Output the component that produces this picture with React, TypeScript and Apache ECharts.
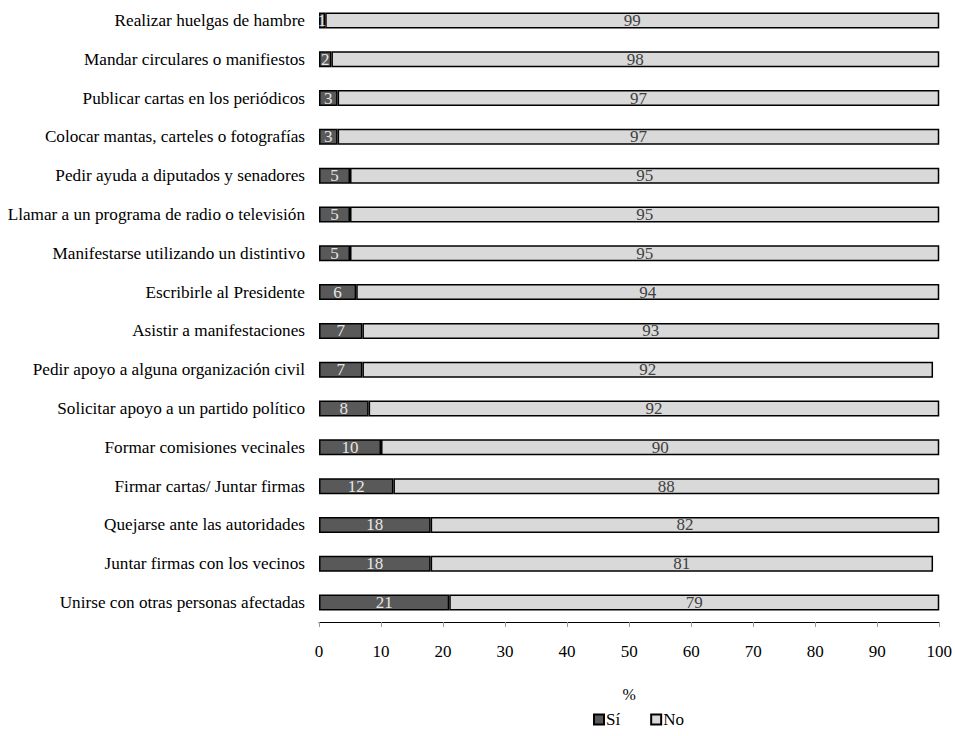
import React, { useEffect, useRef } from "react";
import * as echarts from "echarts";

const categories = [
  "Realizar huelgas de hambre",
  "Mandar circulares o manifiestos",
  "Publicar cartas en los periódicos",
  "Colocar mantas, carteles o fotografías",
  "Pedir ayuda a diputados y senadores",
  "Llamar a un programa de radio o televisión",
  "Manifestarse utilizando un distintivo",
  "Escribirle al Presidente",
  "Asistir a manifestaciones",
  "Pedir apoyo a alguna organización civil",
  "Solicitar apoyo a un partido político",
  "Formar comisiones vecinales",
  "Firmar cartas/ Juntar firmas",
  "Quejarse ante las autoridades",
  "Juntar firmas con los vecinos",
  "Unirse con otras personas afectadas",
];
const siValues = [1, 2, 3, 3, 5, 5, 5, 6, 7, 7, 8, 10, 12, 18, 18, 21];
const noValues = [99, 98, 97, 97, 95, 95, 95, 94, 93, 92, 92, 90, 88, 82, 81, 79];

const FONT = "Liberation Serif";

export default function App() {
  const ref = useRef<HTMLDivElement>(null);
  useEffect(() => {
    if (!ref.current) return;
    const chart = echarts.init(ref.current, null, { renderer: "svg" });
    chart.setOption({
      animation: false,
      textStyle: { fontFamily: FONT },
      grid: { left: 319, right: 15, top: 1, height: 621, containLabel: false },
      legend: {
        left: 588,
        top: 706,
        itemWidth: 10,
        itemHeight: 10,
        itemGap: 30,
        icon: "rect",
        textStyle: { fontFamily: FONT, fontSize: 17, color: "#000", padding: [0, 0, 0, -3] },
        data: ["Sí", "No"],
      },
      xAxis: {
        type: "value",
        min: 0,
        max: 100,
        interval: 10,
        name: "%",
        nameLocation: "middle",
        nameGap: 64,
        nameTextStyle: { fontFamily: FONT, fontSize: 16, color: "#000" },
        axisLine: { show: true, lineStyle: { color: "#000", width: 1 } },
        axisTick: { show: true, length: 5, lineStyle: { color: "#999" } },
        axisLabel: { fontFamily: FONT, fontSize: 17, color: "#000", margin: 21 },
        splitLine: { show: false },
      },
      yAxis: {
        type: "category",
        inverse: true,
        data: categories,
        axisLine: { show: false },
        axisTick: { show: false },
        axisLabel: { fontFamily: FONT, fontSize: 17.2, color: "#000", margin: 14 },
      },
      series: [
        {
          name: "Sí",
          type: "bar",
          stack: "total",
          barWidth: 16,
          data: siValues,
          itemStyle: { color: "#595959", borderColor: "#000", borderWidth: 1.5 },
          label: {
            show: true,
            position: "inside",
            color: "#e6e6e6",
            fontFamily: FONT,
            fontSize: 17,
          },
        },
        {
          name: "No",
          type: "bar",
          stack: "total",
          barWidth: 16,
          data: noValues,
          itemStyle: { color: "#d9d9d9", borderColor: "#000", borderWidth: 1.5 },
          label: {
            show: true,
            position: "inside",
            color: "#404040",
            fontFamily: FONT,
            fontSize: 17,
          },
        },
      ],
    });
    return () => chart.dispose();
  }, []);
  return <div ref={ref} style={{ width: 955, height: 736, position: "absolute", left: 0, top: 0 }} />;
}
